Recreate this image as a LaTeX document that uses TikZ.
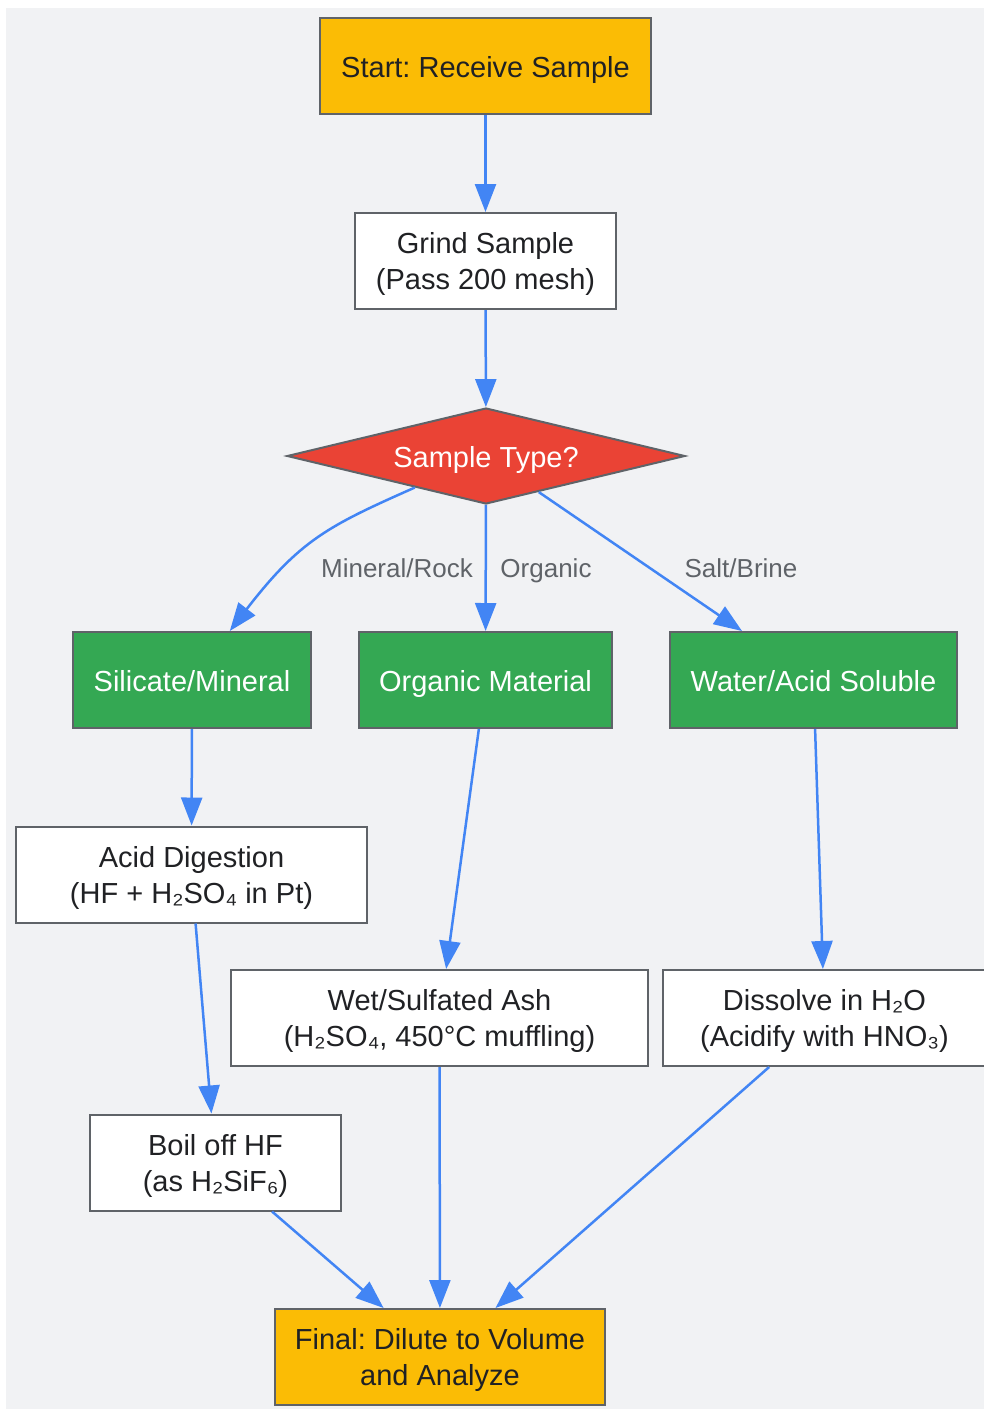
\documentclass[tikz,border=0pt]{standalone}
\usepackage{fontspec}
\setmainfont{Liberation Sans}
\usetikzlibrary{shapes.geometric,arrows.meta}

\definecolor{bgGray}{HTML}{F1F2F4}
\definecolor{lineGray}{HTML}{5F6368}
\definecolor{txtDark}{HTML}{202124}
\definecolor{gYellow}{HTML}{FBBC05}
\definecolor{gRed}{HTML}{EA4335}
\definecolor{gGreen}{HTML}{34A853}
\definecolor{gBlue}{HTML}{4285F4}

\begin{document}
\frenchspacing
\begin{tikzpicture}[x=1pt,y=-1pt,
		box/.style={draw=lineGray, line width=2pt, fill=white, inner sep=0pt,
			minimum height=96pt, align=center, text=txtDark,
			font=\fontsize{29}{36}\selectfont},
		oneline/.style={text height=22.5pt, text depth=0pt},
		twoline/.style={text height=57pt, text depth=0pt},
		term/.style={box, fill=gYellow},
		branch/.style={box, oneline, fill=gGreen, text=white},
		decision/.style={diamond, draw=lineGray, line width=2pt, fill=gRed,
			text=white, inner sep=0pt, aspect=4, minimum width=398pt,
			minimum height=96pt, oneline, font=\fontsize{29}{36}\selectfont},
		lbl/.style={text=lineGray, text depth=0pt, font=\fontsize{26}{30}\selectfont},
		flow/.style={draw=gBlue, line width=2.5pt,
			-{Triangle[length=28pt,width=21pt]}}]
		\useasboundingbox (0,0) rectangle (984,1409);
		\fill[bgGray] (6,8) rectangle (984,1409);
		% Boxes
		\node[term, oneline, minimum width=331pt] (start) at (485.5,66) {Start: Receive Sample};
		\node[box, twoline, minimum width=261pt] (grind) at (485.5,261) {Grind Sample\\(Pass 200 mesh)};
		\node[decision] (type) at (486,456) {Sample Type?};
		\node[branch, minimum width=238pt] (sil) at (192,680) {Silicate/Mineral};
		\node[branch, minimum width=253pt] (org) at (485.5,680) {Organic Material};
		\node[branch, minimum width=287pt] (sol) at (813.5,680) {Water/Acid Soluble};
		\node[box, twoline, minimum width=351pt] (acid) at (191.5,874.5) {Acid Digestion\\(HF + H₂SO₄ in Pt)};
		\node[box, twoline, minimum width=417pt] (ash) at (439.5,1018) {Wet/Sulfated Ash\\(H₂SO₄, 450°C muffling)};
		\node[box, twoline, minimum width=323pt] (diss) at (824.5,1018) {Dissolve in H₂O\\(Acidify with HNO₃)};
		\node[box, twoline, minimum width=251pt] (boil) at (215.5,1162.5) {Boil off HF\\(as H₂SiF₆)};
		\node[term, twoline, minimum width=330pt] (final) at (440,1357) {Final: Dilute to Volume\\and Analyze};
		% Arrows and labels
		\draw[flow] (start) -- (grind);
		\draw[flow] (grind) -- (type);
		\draw[flow] (type) .. controls (328,526) and (300,540) .. (sil);
		\draw[flow] (type) -- (org);
		\draw[flow] (type) -- (sol);
		\node[lbl] (lmin) at (397,568) {Mineral/Rock};
		\node[lbl] (lorg) at (546,568) {Organic};
		\node[lbl] (lsalt) at (741,568) {Salt/Brine};
		\draw[flow] (sil) -- (acid);
		\draw[flow] (org) -- (ash);
		\draw[flow] (sol) -- (diss);
		\draw[flow] (acid) -- (boil);
		\draw[flow] (boil) -- (final);
		\draw[flow] (ash) -- (final);
		\draw[flow] (diss) -- (final);
	\end{tikzpicture}
\end{document}
